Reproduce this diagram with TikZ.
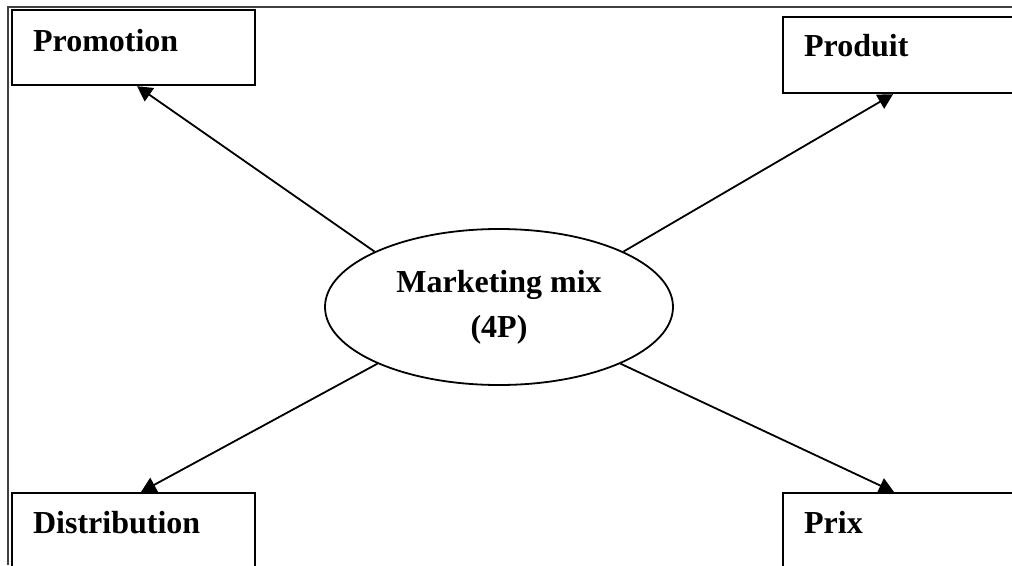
\documentclass[tikz,border=0pt]{standalone}
\usepackage{fontspec}
\setmainfont{Liberation Serif}
\usetikzlibrary{arrows.meta}
\usetikzlibrary{shapes.geometric}

\begin{document}
\begin{tikzpicture}[line join=miter,>={Triangle[length=15pt,width=16pt]},x=1pt,y=-1pt,
  box/.style={draw,line width=2.2pt,fill=white,anchor=north west,inner xsep=21pt,inner ysep=0pt,
    align=left,font=\bfseries\fontsize{32}{38}\selectfont},
  mixell/.style={ellipse,draw,line width=1.8pt,minimum width=348pt,minimum height=156pt,inner sep=0pt,
    align=center,font=\bfseries\fontsize{32}{45}\selectfont},
  link/.style={->,line width=1.8pt}]
\useasboundingbox (0,0) rectangle (1012,565);
\clip (0,0) rectangle (1012,565);
\draw [line width=1.4pt,black!75] (1012,7)--(8,7)--(8,565);
\node[box,text width=201pt,text height=41pt,text depth=34pt] (promo) at (11,9) {Promotion};
\node[box,text width=230pt,text height=39pt,text depth=37pt] (prod) at (782,16) {Produit};
\node[box,text width=201pt,text height=40pt,text depth=60pt] (dist) at (11,492) {Distribution};
\node[box,text width=230pt,text height=40pt,text depth=60pt] (prix) at (782,492) {Prix};
\node[mixell] (mix) at (499,307) {Marketing mix\\(4P)};
\draw [link] (mix.156) -- ([xshift=3.5pt]promo.south);
\draw [link] (mix.24) -- ([xshift=111pt]prod.south west);
\draw [link] (mix.205) -- ([xshift=130pt]dist.north west);
\draw [link] (mix.335) -- ([xshift=112pt]prix.north west);
\end{tikzpicture}
\end{document}
